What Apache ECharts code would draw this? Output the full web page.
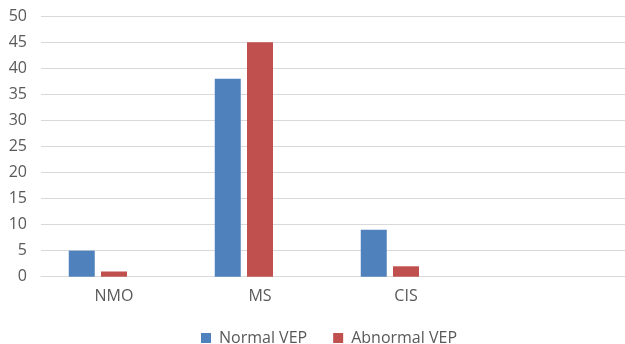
<!DOCTYPE html>
<html>
<head>
<meta charset="utf-8">
<script src="https://cdn.jsdelivr.net/npm/echarts@6/dist/echarts.min.js"></script>
<style>html,body{margin:0;padding:0;background:#fff}#c{width:625px;height:344px}</style>
</head>
<body>
<div id="c"></div>
<script>
var categories = ['NMO', 'MS', 'CIS', ''];
var normalVEP = [5, 38, 9, null];
var abnormalVEP = [1, 45, 2, null];
var emptySeries = [null, null, null, null];
var yMin = 0, yMax = 50, yInterval = 5;

var chart = echarts.init(document.getElementById('c'));
var font = 'Open Sans';
chart.setOption({
  animation: false,
  grid: { left: 41, right: 0, top: 16.3, bottom: 67.3 },
  legend: {
    data: ['Normal VEP', 'Abnormal VEP'],
    left: 196, top: 325,
    itemWidth: 10, itemHeight: 10, itemGap: 26,
    icon: 'rect',
    textStyle: { fontFamily: font, fontSize: 16, color: '#595959', padding: [0,0,0,3] }
  },
  xAxis: {
    type: 'category', data: categories,
    axisLine: { lineStyle: { color: '#D9D9D9' } },
    axisTick: { show: false },
    axisLabel: { fontFamily: font, fontSize: 16, color: '#595959', margin: 12 }
  },
  yAxis: {
    type: 'value', min: yMin, max: yMax, interval: yInterval,
    axisLine: { show: false }, axisTick: { show: false },
    splitLine: { lineStyle: { color: '#D9D9D9' } },
    axisLabel: { fontFamily: font, fontSize: 16, color: '#595959', margin: 14 }
  },
  series: [
    { name: 'Normal VEP', type: 'bar', data: normalVEP, barWidth: 26, barGap: '24%', barCategoryGap: '38%', itemStyle: { color: '#4F81BD' } },
    { name: 'Abnormal VEP', type: 'bar', data: abnormalVEP, barWidth: 26, itemStyle: { color: '#C0504D' } },
    { name: 'Empty', type: 'bar', data: emptySeries, barWidth: 26, itemStyle: { color: '#9BBB59' } }
  ]
});
</script>
</body>
</html>
